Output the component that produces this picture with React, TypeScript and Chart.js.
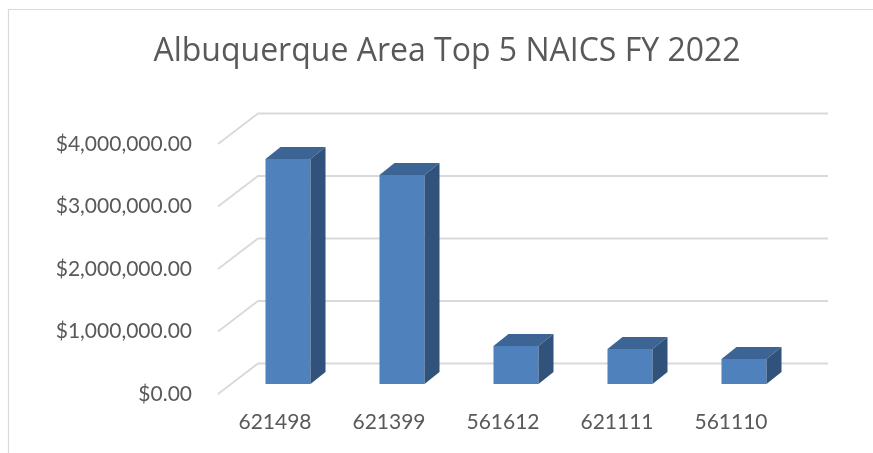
import React, { useEffect, useRef } from 'react';
import { Chart, registerables } from 'chart.js';

Chart.register(...registerables);

const TITLE = 'Albuquerque Area Top 5 NAICS FY 2022';
const categories = ['621498', '621399', '561612', '621111', '561110'];
const values = [3600000, 3344000, 608000, 560000, 400000];
const yTicks = [0, 1000000, 2000000, 3000000, 4000000];

const FONT = 'Lato';
const TITLE_FONT = 'Open Sans';
const TEXT_COLOR = '#595959';
const GRID_COLOR = '#d9d9d9';
const FRONT_COLOR = '#4f81bd';
const TOP_COLOR = '#3c6494';
const SIDE_COLOR = '#31527b';

// 3D geometry
const WALL_DX = 40;
const WALL_DY = -30.5;
const BAR_SHIFT_X = 13;
const BAR_SHIFT_Y = -10;
const DEPTH_X = 15;
const DEPTH_Y = -12;

function fmtMoney(v: number): string {
  const whole = Math.round(v).toString().replace(/\B(?=(\d{3})+(?!\d))/g, ',');
  return '$' + whole + '.00';
}

const threeD = {
  id: 'threeD',
  beforeDraw(chart: any) {
    const ctx = chart.ctx;
    ctx.save();
    ctx.strokeStyle = GRID_COLOR;
    ctx.lineWidth = 1.2;
    ctx.beginPath();
    ctx.moveTo(8.5, chart.height);
    ctx.lineTo(8.5, 9.5);
    ctx.lineTo(chart.width, 9.5);
    ctx.stroke();
    ctx.restore();
  },
  beforeDatasetsDraw(chart: any) {
    const { ctx, chartArea } = chart;
    const y = chart.scales.y;
    ctx.save();
    ctx.strokeStyle = GRID_COLOR;
    ctx.lineWidth = 1.8;
    for (const v of yTicks) {
      const py = y.getPixelForValue(v);
      ctx.beginPath();
      ctx.moveTo(chartArea.left, py);
      ctx.lineTo(chartArea.left + WALL_DX, py + WALL_DY);
      ctx.lineTo(chartArea.right + WALL_DX, py + WALL_DY);
      ctx.stroke();
    }
    ctx.restore();
    ctx.save();
    ctx.translate(BAR_SHIFT_X, BAR_SHIFT_Y);
  },
  afterDatasetsDraw(chart: any) {
    const ctx = chart.ctx;
    const meta = chart.getDatasetMeta(0);
    meta.data.forEach((bar: any) => {
      const { x, y, base, width } = bar.getProps(['x', 'y', 'base', 'width'], true);
      const l = x - width / 2;
      const r = x + width / 2;
      ctx.fillStyle = TOP_COLOR;
      ctx.beginPath();
      ctx.moveTo(l, y);
      ctx.lineTo(l + DEPTH_X, y + DEPTH_Y);
      ctx.lineTo(r + DEPTH_X, y + DEPTH_Y);
      ctx.lineTo(r, y);
      ctx.closePath();
      ctx.fill();
      ctx.fillStyle = SIDE_COLOR;
      ctx.beginPath();
      ctx.moveTo(r, y);
      ctx.lineTo(r + DEPTH_X, y + DEPTH_Y);
      ctx.lineTo(r + DEPTH_X, base + DEPTH_Y);
      ctx.lineTo(r, base);
      ctx.closePath();
      ctx.fill();
    });
    ctx.restore();
  },
};

export default function App() {
  const canvasRef = useRef<HTMLCanvasElement | null>(null);

  useEffect(() => {
    if (!canvasRef.current) return;
    const chart = new Chart(canvasRef.current, {
      type: 'bar',
      data: {
        labels: categories,
        datasets: [
          {
            data: values,
            backgroundColor: FRONT_COLOR,
            borderWidth: 0,
            categoryPercentage: 1,
            barPercentage: 0.395,
            clip: false as any,
          },
        ],
      },
      options: {
        animation: false,
        responsive: false,
        layout: { padding: { left: 21, right: 0, top: 0, bottom: 0 } },
        plugins: {
          legend: { display: false },
          tooltip: { enabled: false },
          title: {
            display: true,
            text: TITLE,
            color: TEXT_COLOR,
            font: { family: TITLE_FONT, size: 32, weight: 'normal' },
            padding: { top: 33, bottom: 72.6 },
          },
        },
        scales: {
          x: {
            grid: { display: false, drawTicks: false },
            border: { display: false },
            ticks: {
              color: TEXT_COLOR,
              font: { family: FONT, size: 21 },
              padding: 16,
              maxRotation: 0,
            },
            afterFit: (s: any) => {
              s.height = 59;
            },
          },
          y: {
            min: 0,
            max: 4000000,
            grid: { display: false, drawTicks: false },
            border: { display: false },
            ticks: {
              stepSize: 1000000,
              color: TEXT_COLOR,
              font: { family: FONT, size: 21 },
              padding: 26,
              callback: (v: any) => fmtMoney(Number(v)),
            },
            afterFit: (s: any) => {
              s.width = 197;
            },
          },
          yRight: {
            type: 'linear',
            position: 'right',
            display: true,
            grid: { display: false, drawTicks: false },
            border: { display: false },
            ticks: { display: false },
            afterFit: (s: any) => {
              s.width = 85;
            },
          },
        },
      },
      plugins: [threeD],
    });
    return () => chart.destroy();
  }, []);

  return (
    <div style={{ position: 'fixed', left: 0, top: 0, width: 873, height: 453, background: '#fff' }}>
      <canvas ref={canvasRef} width={873} height={453} style={{ display: 'block' }} />
    </div>
  );
}
